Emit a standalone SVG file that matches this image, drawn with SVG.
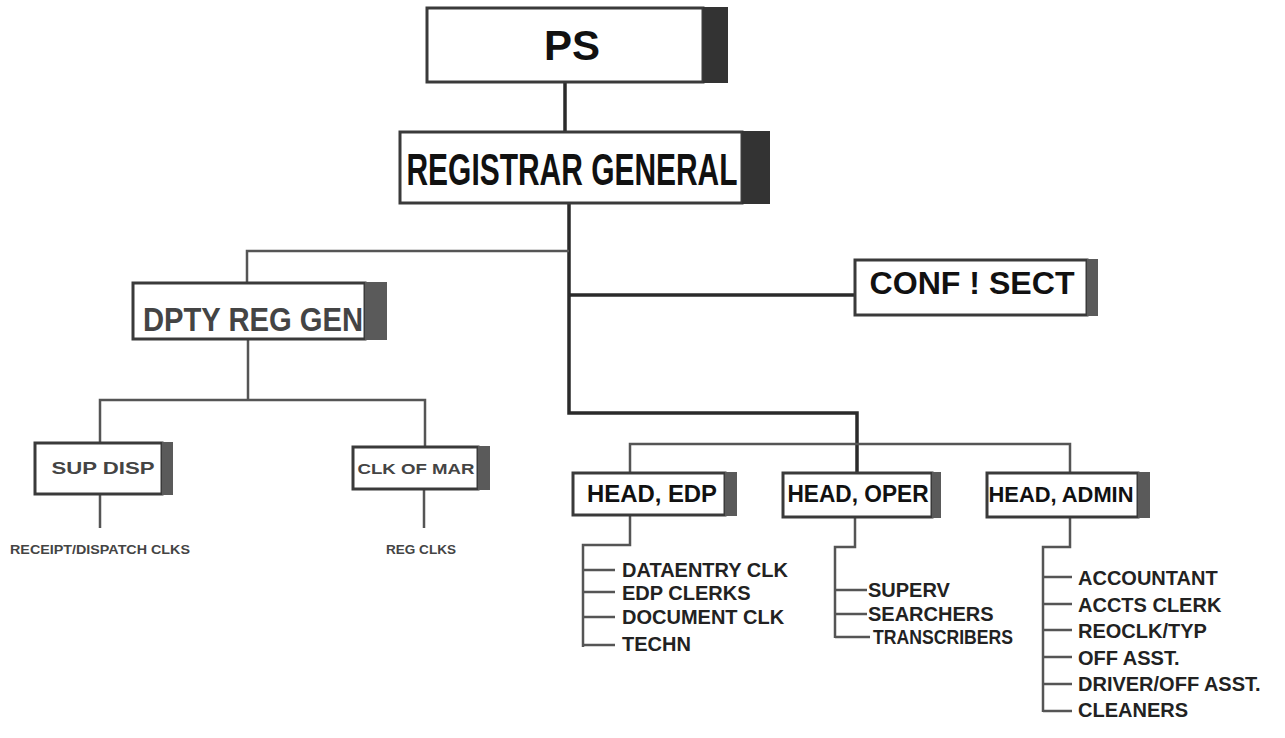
<svg xmlns="http://www.w3.org/2000/svg" width="1285" height="738" viewBox="0 0 1285 738">
<style>
.box{fill:#fff;stroke:#3a3a3a;stroke-width:3}
.sh{fill:#333}
.shl{fill:#5a5a5a}
.t{font-family:"Liberation Sans",Arial,sans-serif;font-weight:bold;fill:#111;text-anchor:middle}
.tl{font-family:"Liberation Sans",Arial,sans-serif;font-weight:bold;fill:#222}
.g{fill:#444}
.ln{fill:none;stroke:#2a2a2a;stroke-width:3.5;stroke-linejoin:miter}
.lg{fill:none;stroke:#555;stroke-width:2.5}
</style>
<rect width="1285" height="738" fill="#fff"/>
<g id="connectors">
<path class="ln" d="M565 82 V132"/>
<path class="ln" d="M569 204 V413 H857 V473"/>
<path class="lg" d="M569 251 H247 V283"/>
<path class="ln" d="M569 295 H855"/>
<path class="lg" d="M630 473 V444 H1070 V473"/>
<path class="lg" d="M248 339 V400 M100 443 V400 H425 V447"/>
<path class="lg" d="M100 494 V528 M424 489 V528"/>
<path class="lg" d="M630 515 V545 H583 V647 M583 570 H615 M583 592 H615 M583 617 H615 M583 645 H615"/>
<path class="lg" d="M855 517 V547 H835 V638 M835 590 H867 M835 614 H867 M835 637 H870"/>
<path class="lg" d="M1070 517 V547 H1043 V712 M1043 577 H1072 M1043 604 H1072 M1043 630 H1072 M1043 657 H1072 M1043 684 H1072 M1043 711 H1072"/>
</g>
<g id="ps">
<rect class="box" x="427" y="8" width="276" height="74"/>
<rect class="sh" x="703" y="7" width="25" height="76"/>
<text class="t" x="572" y="60" font-size="42">PS</text>
</g>
<g id="registrar-general">
<rect class="box" x="400" y="132" width="342" height="71"/>
<rect class="sh" x="742" y="131" width="28" height="73"/>
<text class="t" x="572" y="185" font-size="45" textLength="331" lengthAdjust="spacingAndGlyphs">REGISTRAR GENERAL</text>
</g>
<g id="dpty-reg-gen">
<rect class="box" x="133" y="283" width="232" height="56"/>
<rect class="shl" x="365" y="282" width="22" height="58"/>
<text class="t g" x="253" y="331" font-size="33" textLength="220" lengthAdjust="spacingAndGlyphs">DPTY REG GEN</text>
</g>
<g id="conf-sect">
<rect class="box" x="855" y="260" width="232" height="55"/>
<rect class="shl" x="1087" y="259" width="11" height="57"/>
<text class="t" x="972" y="294" font-size="32" textLength="205" lengthAdjust="spacingAndGlyphs">CONF ! SECT</text>
</g>
<g id="sup-disp">
<rect class="box" x="35" y="443" width="127" height="51"/>
<rect class="shl" x="162" y="442" width="11" height="53"/>
<text class="t g" x="103" y="474" font-size="17" textLength="103" lengthAdjust="spacingAndGlyphs">SUP DISP</text>
<text class="t g" x="100" y="554" font-size="13" textLength="180" lengthAdjust="spacingAndGlyphs">RECEIPT/DISPATCH CLKS</text>
</g>
<g id="clk-of-mar">
<rect class="box" x="353" y="447" width="125" height="42"/>
<rect class="shl" x="478" y="446" width="12" height="44"/>
<text class="t g" x="416" y="474" font-size="15" textLength="117" lengthAdjust="spacingAndGlyphs">CLK OF MAR</text>
<text class="t g" x="421" y="554" font-size="13" textLength="70" lengthAdjust="spacingAndGlyphs">REG CLKS</text>
</g>
<g id="head-edp">
<rect class="box" x="573" y="473" width="152" height="42"/>
<rect class="shl" x="725" y="472" width="12" height="44"/>
<text class="t" x="652" y="502" font-size="24" textLength="130" lengthAdjust="spacingAndGlyphs">HEAD, EDP</text>
<text class="tl" x="622" y="577" font-size="20">DATAENTRY CLK</text>
<text class="tl" x="622" y="600" font-size="20">EDP CLERKS</text>
<text class="tl" x="622" y="624" font-size="20">DOCUMENT CLK</text>
<text class="tl" x="622" y="651" font-size="20">TECHN</text>
</g>
<g id="head-oper">
<rect class="box" x="783" y="473" width="149" height="44"/>
<rect class="shl" x="932" y="472" width="9" height="46"/>
<text class="t" x="858" y="502" font-size="23" textLength="141" lengthAdjust="spacingAndGlyphs">HEAD, OPER</text>
<text class="tl" x="868" y="597" font-size="20">SUPERV</text>
<text class="tl" x="868" y="621" font-size="20">SEARCHERS</text>
<text class="tl" x="873" y="644" font-size="20" textLength="140" lengthAdjust="spacingAndGlyphs">TRANSCRIBERS</text>
</g>
<g id="head-admin">
<rect class="box" x="987" y="473" width="151" height="44"/>
<rect class="shl" x="1138" y="472" width="12" height="46"/>
<text class="t" x="1061" y="502" font-size="22" textLength="145" lengthAdjust="spacingAndGlyphs">HEAD, ADMIN</text>
<text class="tl" x="1078" y="585" font-size="20">ACCOUNTANT</text>
<text class="tl" x="1078" y="612" font-size="20">ACCTS CLERK</text>
<text class="tl" x="1078" y="638" font-size="20">REOCLK/TYP</text>
<text class="tl" x="1078" y="665" font-size="20">OFF ASST.</text>
<text class="tl" x="1078" y="691" font-size="20">DRIVER/OFF ASST.</text>
<text class="tl" x="1078" y="717" font-size="20">CLEANERS</text>
</g>
</svg>
